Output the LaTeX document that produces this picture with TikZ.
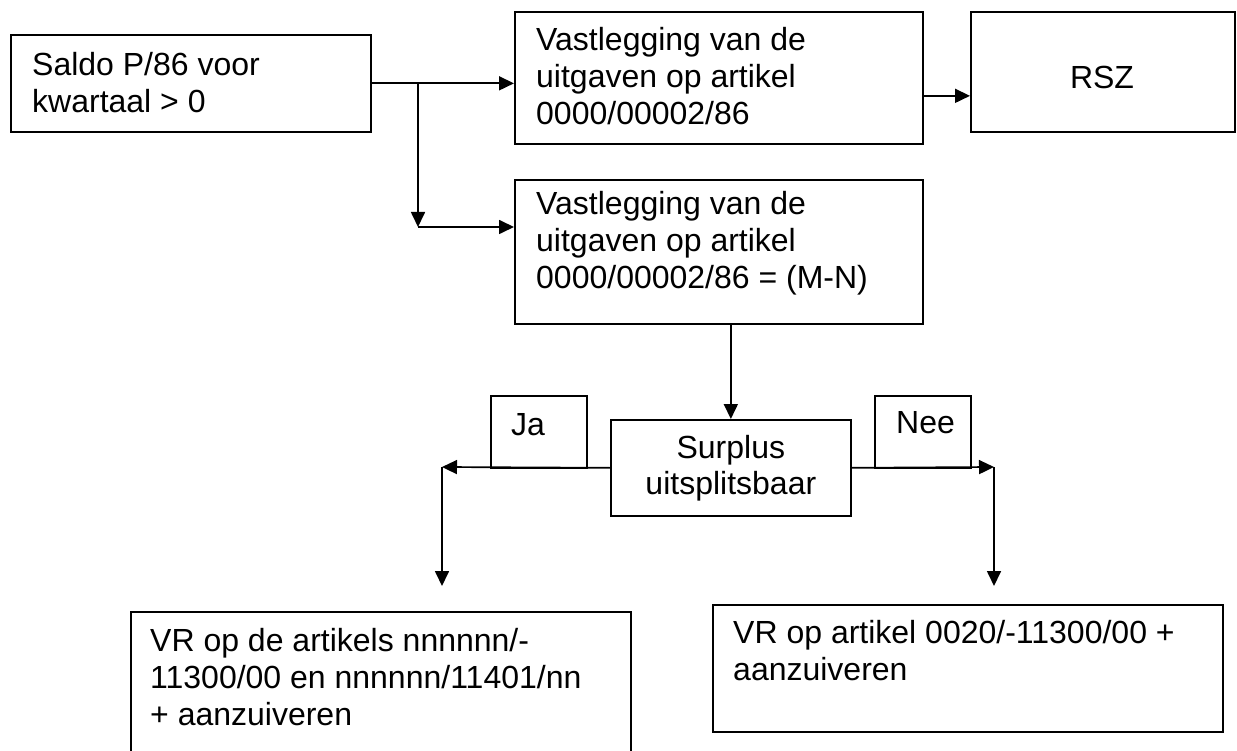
\documentclass[tikz,border=0pt]{standalone}
\usepackage{fontspec}
\setmainfont{Liberation Sans}
\usetikzlibrary{arrows.meta}

\tikzset{
  kader/.style={draw, line width=1.7pt, inner sep=0pt, anchor=north west},
  tekst/.style={font=\fontsize{32}{37}\selectfont, inner sep=0pt, align=left, anchor=base west},
  pijl/.style={line width=1.7pt, -{Triangle[length=15pt,width=14pt]}}
}

\begin{document}
\begin{tikzpicture}[x=1pt,y=1pt,yscale=-1,xscale=1]
\useasboundingbox (0,0) rectangle (1237,751);

%Boxes
\node[kader, minimum width=360pt, minimum height=97pt] (saldo) at (10,34) {};
\node[kader, minimum width=408pt, minimum height=132pt] (vast1) at (514,11) {};
\node[kader, minimum width=264pt, minimum height=120pt] (rsz) at (970,11) {};
\node[kader, minimum width=408pt, minimum height=144pt] (vast2) at (514,179) {};
\node[kader, minimum width=240pt, minimum height=96pt, align=center, font=\fontsize{32}{36}\selectfont] (surplus) at (610,419) {Surplus\\uitsplitsbaar};
\node[kader, minimum width=96pt, minimum height=72pt] (ja) at (490,395) {};
\node[kader, minimum width=96pt, minimum height=72pt] (nee) at (874,395) {};
\node[kader, minimum width=500pt, minimum height=160pt] (vrja) at (130,611) {};
\node[kader, minimum width=510pt, minimum height=127pt] (vrnee) at (712,604) {};

%Texts (anchored on the last baseline)
\node[tekst] (saldoTxt) at (32,113) {Saldo P/86 voor\\kwartaal > 0};
\node[tekst] (vast1Txt) at (536,125) {Vastlegging van de\\uitgaven op artikel\\0000/00002/86};
\node[tekst, anchor=base] (rszTxt) at (1102,89) {RSZ};
\node[tekst] (vast2Txt) at (536,289) {Vastlegging van de\\uitgaven op artikel\\0000/00002/86 = (M-N)};
\node[tekst] (jaTxt) at (511,435) {Ja};
\node[tekst] (neeTxt) at (896,433) {Nee};
\node[tekst] (vrjaTxt) at (150,725) {VR op de artikels nnnnnn/-\\11300/00 en nnnnnn/11401/nn\\+ aanzuiveren};
\node[tekst] (vrneeTxt) at (733,680) {VR op artikel 0020/-11300/00 +\\aanzuiveren};

%Connectors
\coordinate (splits) at (418,82.5);
\coordinate (splitsOnder) at (418,227);
\coordinate (jaHoek) at (442,467);
\coordinate (jaEind) at (442,586);
\coordinate (neeHoek) at (994,467);
\coordinate (neeEind) at (994,586);

\draw[pijl] (saldo.east) -- (saldo.east -| vast1.west);
\draw[pijl] (splits) -- (splitsOnder);
\draw[pijl] (splitsOnder) -- (splitsOnder -| vast2.west);
\draw[pijl] ([yshift=18pt]vast1.east) -- ([yshift=18pt]vast1.east -| rsz.west);
\draw[pijl] (vast2.south -| surplus.north) -- (surplus.north);
\draw[pijl] (surplus.west) -- (jaHoek);
\draw[pijl] (jaHoek) -- (jaEind);
\draw[pijl] (surplus.east) -- (neeHoek);
\draw[pijl] (neeHoek) -- (neeEind);
\end{tikzpicture}
\end{document}
